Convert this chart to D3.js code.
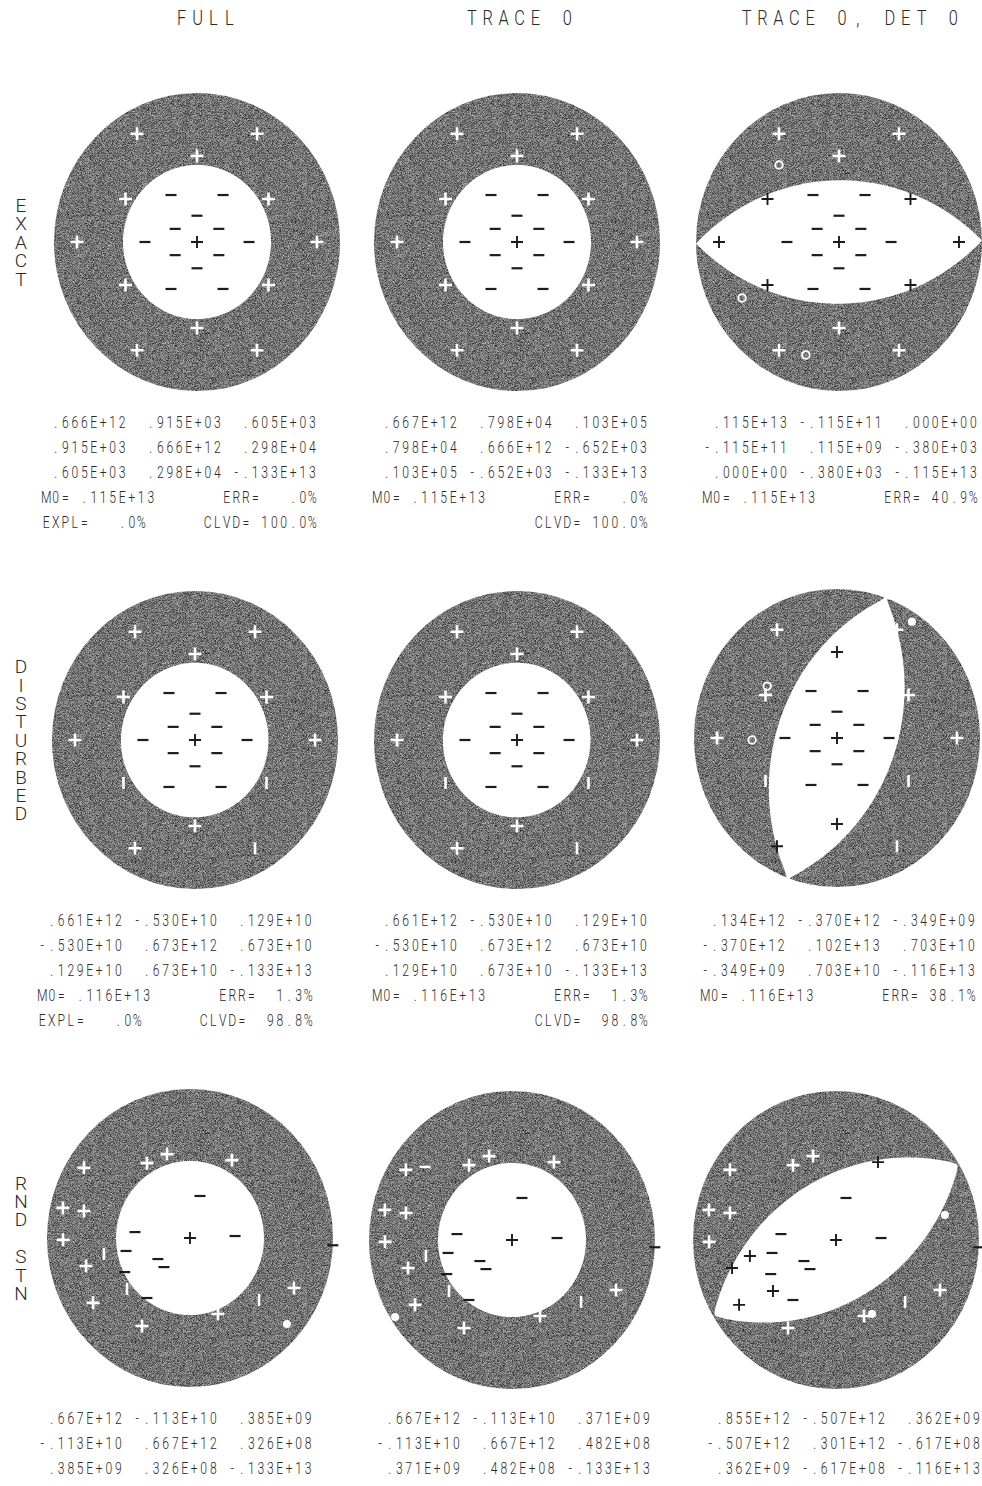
<!DOCTYPE html>
<html>
<head>
<meta charset="utf-8">
<script src="https://cdn.jsdelivr.net/npm/d3@7/dist/d3.min.js"></script>
<style>
  html, body { margin: 0; padding: 0; background: #fff; }
  svg { display: block; }
  text { font-family: Roboto, "DejaVu Sans", sans-serif; font-weight: 300; fill: #2a2a2a; }
</style>
</head>
<body>
<svg id="chart" width="982" height="1486"></svg>
<script>
// ---------------- data ----------------
const columnTitles = ["FULL", "TRACE 0", "TRACE 0, DET 0"];
const rowTitles = ["EXACT", "DISTURBED", "RND STN"];

// moment tensors, axes (north, east, down), one per column
const tensorsExact = [
  [[.666e12, .915e3, .605e3], [.915e3, .666e12, .298e4], [.605e3, .298e4, -.133e13]],
  [[.667e12, .798e4, .103e5], [.798e4, .666e12, -.652e3], [.103e5, -.652e3, -.133e13]],
  [[.115e13, -.115e11, 0], [-.115e11, .115e9, -.380e3], [0, -.380e3, -.115e13]]
];
const tensorsDisturbed = [
  [[.661e12, -.530e10, .129e10], [-.530e10, .673e12, .673e10], [.129e10, .673e10, -.133e13]],
  [[.661e12, -.530e10, .129e10], [-.530e10, .673e12, .673e10], [.129e10, .673e10, -.133e13]],
  [[.134e12, -.370e12, -.349e9], [-.370e12, .102e13, .703e10], [-.349e9, .703e10, -.116e13]]
];
const tensorsRandom = [
  [[.667e12, -.113e10, .385e9], [-.113e10, .667e12, .326e8], [.385e9, .326e8, -.133e13]],
  [[.667e12, -.113e10, .371e9], [-.113e10, .667e12, .482e8], [.371e9, .482e8, -.133e13]],
  [[.855e12, -.507e12, .362e9], [-.507e12, .301e12, -.617e8], [.362e9, -.617e8, -.116e13]]
];

// summary values printed under the first two rows
const seismicMoment = [[1.15e12, 1.15e12, 1.15e12], [1.16e12, 1.16e12, 1.16e12]];
const misfitErr = [[0.0, 0.0, 40.9], [1.3, 1.3, 38.1]];
const explosivePct = [0.0, 0.0];
const clvdPct = [[100.0, 100.0], [98.8, 98.8]];

// regular station net: takeoff angle and azimuth (degrees)
const netTakeoff = [20, 20, 20, 20, 20, 20, 40, 40, 40, 40, 40, 40, 60, 60, 60, 60, 60, 60, 80, 80, 80, 80, 80, 80];
const netAzimuth = [0, 60, 120, 180, 240, 300, 30, 90, 150, 210, 270, 330, 0, 60, 120, 180, 240, 300, 30, 90, 150, 210, 270, 330];
const exactPolarity = "------------++++++++++++";
const disturbedPolarity = "------------++|+|+++|+++";

// random station set
const rndTakeoff = [82.6, 60.7, 60.7, 61.9, 84.7, 74.7, 83.2, 73.8, 77.7, 68.4, 57.3, 77.4,
  62.9, 58.3, 65.0, 32.4, 42.3, 35.0, 49.0, 29.7, 29.9, 54.1, 53.4, 90];
const rndAzimuth = [302.4, 329.1, 344.1, 29.3, 282.8, 283.7, 269.2, 255.5, 237.3, 209.6, 159.0, 114.8,
  259.9, 232.2, 130.7, 13.9, 275.9, 87.6, 259.0, 237.8, 223.0, 243.4, 216.8, 92.8];
const rndPolarity = ["++++++++++++|||---------", "++++++++++++|||---------", "++++++++++++++|---------"];

// additional plotted marks: row, column, takeoff, azimuth, kind
const extraRow = [0, 0, 0, 1, 1, 1, 2, 2, 2, 2, 2];
const extraCol = [2, 2, 2, 2, 2, 2, 0, 1, 1, 2, 2];
const extraTakeoff = [67.3, 75.6, 76.8, 61.9, 61.4, 86.4, 83.3, 88.1, 76.0, 58.2, 75.9];
const extraAzimuth = [320.9, 241.0, 197.0, 305.5, 268.7, 33.9, 130.4, 237.7, 308.9, 153.1, 77.6];
const extraKind = ["o", "o", "o", "o", "o", "dot", "dot", "dot", "-", "dot", "dot"];

// ---------------- layout ----------------
const W = 982, H = 1486;
const RX = 143, RY = 149;
const layout = {
  centers: [
    [[197, 242], [517, 242], [839, 242]],
    [[195, 740], [517, 740], [837, 738]],
    [[190, 1238], [512, 1240], [836, 1240]]
  ],
  textX: [[32, 363, 693], [28, 363, 691], [28, 366, 696]],
  textY: [428, 926, 1424],
  lineGap: 25,
  pitch: 9.5,
  titleY: 25,
  titleX: [205.5, 519.5, 850],
  labelX: 21
};
const INK = "#1c1c1c";

const svg = d3.select("#chart");
const defs = svg.append("defs");

// stippled shading of the compressional quadrants
const grain = defs.append("filter").attr("id", "grain")
  .attr("filterUnits", "userSpaceOnUse").attr("x", 0).attr("y", 0).attr("width", W).attr("height", H)
  .attr("color-interpolation-filters", "sRGB");
grain.append("feTurbulence").attr("type", "fractalNoise").attr("baseFrequency", 1.6)
  .attr("numOctaves", 1).attr("seed", 7).attr("result", "noise");
grain.append("feColorMatrix").attr("in", "noise").attr("type", "matrix")
  .attr("values", "1.1 0 0 0 -0.1  1.1 0 0 0 -0.1  1.1 0 0 0 -0.1  0 0 0 0 1").attr("result", "gray");
grain.append("feComposite").attr("in", "gray").attr("in2", "SourceGraphic").attr("operator", "in");

// ---------------- helpers ----------------
function fmtE(v) {
  if (v === 0) return ".000E+00";
  const a = Math.abs(v);
  let e = Math.floor(Math.log10(a)) + 1;
  let m = Math.round(a / Math.pow(10, e) * 1000);
  if (m >= 1000) { m = 100; e += 1; }
  return (v < 0 ? "-" : "") + "." + String(m).padStart(3, "0") + "E" + (e < 0 ? "-" : "+") + String(Math.abs(e)).padStart(2, "0");
}
function fmtF(v, w) {
  let s = v.toFixed(1);
  if (s.startsWith("0.")) s = s.slice(1);
  return s.padStart(w);
}

// P-wave radiation amplitude for a ray with given takeoff/azimuth (radians)
function radiation(M, inc, az) {
  const g = [Math.sin(inc) * Math.cos(az), Math.sin(inc) * Math.sin(az), Math.cos(inc)];
  let u = 0;
  for (let i = 0; i < 3; i++) for (let j = 0; j < 3; j++) u += g[i] * M[i][j] * g[j];
  return u;
}
// stereographic lower-hemisphere projection -> unit disk (east, north)
function project(takeoffDeg, azDeg) {
  const r = Math.tan(takeoffDeg * Math.PI / 360);
  const a = azDeg * Math.PI / 180;
  return [r * Math.sin(a), r * Math.cos(a), r];
}

// fixed-pitch text line, each glyph centred in its cell
function monoLine(g, str, x0, y, pitch, size, sx) {
  const xs = [], chars = [];
  [...str].forEach((ch, i) => {
    if (ch !== " ") { chars.push(ch); xs.push(((x0 + (i + 0.5) * pitch) / sx).toFixed(2)); }
  });
  g.append("text")
    .attr("transform", `scale(${sx},1)`)
    .attr("x", xs.join(" ")).attr("y", y)
    .attr("text-anchor", "middle")
    .style("font-size", size + "px")
    .text(chars.join(""));
}

function glyph(g, kind, x, y, onGray) {
  const col = onGray ? "#fff" : INK;
  if (kind === "+") {
    const h = onGray ? 6.5 : 6;
    g.append("path").attr("d", `M${x - h},${y}H${x + h}M${x},${y - h}V${y + h}`)
      .attr("stroke", col).attr("stroke-width", onGray ? 2.6 : 1.9).attr("fill", "none");
  } else if (kind === "-") {
    const h = 5.5;
    g.append("path").attr("d", `M${x - h},${y}H${x + h}`)
      .attr("stroke", col).attr("stroke-width", onGray ? 2.4 : 2.2).attr("fill", "none");
  } else if (kind === "|") {
    const h = 6;
    g.append("path").attr("d", `M${x},${y - h}V${y + h}`)
      .attr("stroke", col).attr("stroke-width", 2.6).attr("fill", "none");
  } else if (kind === "o") {
    g.append("circle").attr("cx", x).attr("cy", y).attr("r", 3.8)
      .attr("stroke", col).attr("stroke-width", 1.8).attr("fill", "none");
  } else if (kind === "dot") {
    g.append("circle").attr("cx", x).attr("cy", y).attr("r", 4).attr("fill", onGray ? "#fff" : INK);
  }
}

// ---------------- titles ----------------
columnTitles.forEach((t, c) => {
  const pitch = 15.9;
  const x0 = layout.titleX[c] - t.length * pitch / 2;
  monoLine(svg, t, x0, layout.titleY, pitch, 20.5, 0.8);
});
rowTitles.forEach((t, r) => {
  const cy = layout.centers[r][0][1];
  const pitch = 18.4;
  const ys = [], chars = [];
  [...t].forEach((ch, i) => {
    if (ch !== " ") { chars.push(ch); ys.push((cy + (i - (t.length - 1) / 2) * pitch + 6.8).toFixed(2)); }
  });
  svg.append("text")
    .attr("x", chars.map(() => layout.labelX).join(" "))
    .attr("y", ys.join(" "))
    .attr("text-anchor", "middle")
    .style("font-size", "19px")
    .text(chars.join(""));
});

// ---------------- panels ----------------
const tensors = [tensorsExact, tensorsDisturbed, tensorsRandom];
const stationSets = [
  { takeoff: netTakeoff, azimuth: netAzimuth, glyphs: [exactPolarity, exactPolarity, exactPolarity] },
  { takeoff: netTakeoff, azimuth: netAzimuth, glyphs: [disturbedPolarity, disturbedPolarity, disturbedPolarity] },
  { takeoff: rndTakeoff, azimuth: rndAzimuth, glyphs: rndPolarity }
];

const N = 281, L = 1.03;
const contour = d3.contours().size([N, N]).thresholds([0]);

for (let r = 0; r < 3; r++) {
  for (let c = 0; c < 3; c++) {
    const [cx, cy] = layout.centers[r][c];
    const M = tensors[r][c];
    const xs = d3.scaleLinear().domain([-1, 1]).range([cx - RX, cx + RX]);
    const ys = d3.scaleLinear().domain([-1, 1]).range([cy + RY, cy - RY]);
    const id = `ball-${r}-${c}`;
    defs.append("clipPath").attr("id", id)
      .append("ellipse").attr("cx", xs(0)).attr("cy", ys(0)).attr("rx", xs(1) - xs(0)).attr("ry", ys(-1) - ys(0));

    // sample the radiation pattern on the projected disk
    const scaleM = d3.max(M.flat(), v => Math.abs(v));
    const values = new Float64Array(N * N);
    for (let j = 0; j < N; j++) {
      for (let i = 0; i < N; i++) {
        const e = -L + 2 * L * i / (N - 1), n = L - 2 * L * j / (N - 1);
        const rr = Math.hypot(e, n);
        values[j * N + i] = radiation(M, 2 * Math.atan(rr), Math.atan2(e, n)) / scaleM;
      }
    }
    const gridToPx = d3.geoTransform({
      point: function (px, py) {
        this.stream.point(xs(-L + 2 * L * (px - 0.5) / (N - 1)), ys(L - 2 * L * (py - 0.5) / (N - 1)));
      }
    });
    const panel = svg.append("g");
    panel.append("g").attr("clip-path", `url(#${id})`)
      .append("path")
      .datum(contour(values)[0])
      .attr("d", d3.geoPath(gridToPx))
      .attr("fill", "#707070")
      .attr("filter", "url(#grain)");

    // station polarities
    const set = stationSets[r];
    set.takeoff.forEach((tk, k) => {
      const [e, n, rr] = project(tk, set.azimuth[k]);
      const u = radiation(M, tk * Math.PI / 180, set.azimuth[k] * Math.PI / 180);
      const onGray = u > 0 && rr < 0.97;
      glyph(panel, set.glyphs[c][k], xs(e), ys(n), onGray);
    });
    extraKind.forEach((kind, k) => {
      if (extraRow[k] !== r || extraCol[k] !== c) return;
      const [e, n, rr] = project(extraTakeoff[k], extraAzimuth[k]);
      const u = radiation(M, extraTakeoff[k] * Math.PI / 180, extraAzimuth[k] * Math.PI / 180);
      glyph(panel, kind, xs(e), ys(n), u > 0 && rr < 0.97);
    });
    // centre of the focal sphere
    glyph(panel, "+", xs(0), ys(0), false);

    // printed tensor and fit summary
    const lines = M.map(row => row.map(v => fmtE(v).padStart(10)).join(""));
    if (r < 2) {
      lines.push((" M0= " + fmtE(seismicMoment[r][c])).padEnd(20) + "ERR=" + fmtF(misfitErr[r][c], 5) + "%");
      if (c === 0) lines.push((" EXPL=" + fmtF(explosivePct[r], 5) + "%").padEnd(18) + "CLVD=" + fmtF(clvdPct[r][c], 6) + "%");
      else if (c === 1) lines.push("".padEnd(18) + "CLVD=" + fmtF(clvdPct[r][c], 6) + "%");
    }
    const tg = svg.append("g");
    lines.forEach((ln, k) => monoLine(tg, ln, layout.textX[r][c], layout.textY[r] + k * layout.lineGap, layout.pitch, 16.2, 0.75));
  }
}
</script>
</body>
</html>
